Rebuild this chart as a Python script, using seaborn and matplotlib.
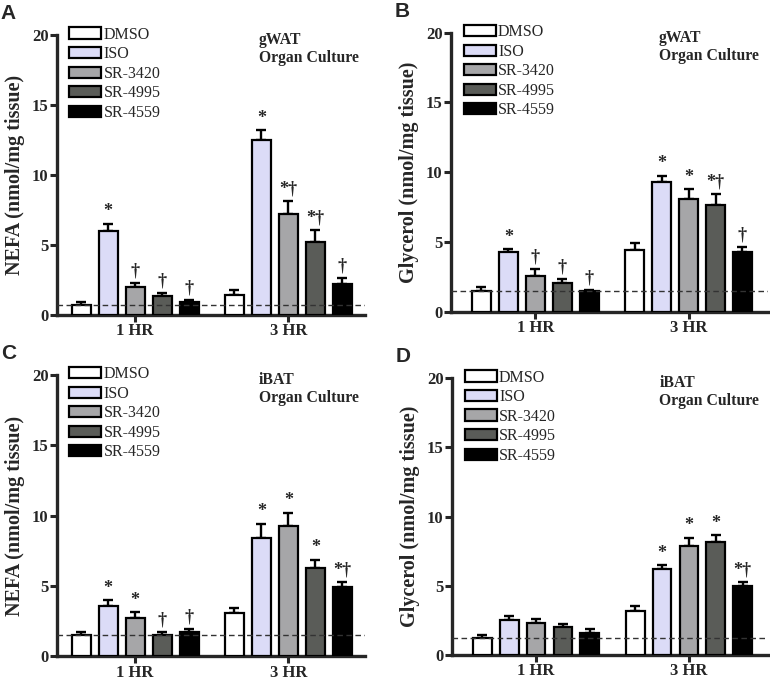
import matplotlib
matplotlib.use("Agg")
import matplotlib.pyplot as plt
import seaborn as sns
import pandas as pd
import numpy as np


groups = ["1 HR", "3 HR"]
treatments = ["DMSO", "ISO", "SR-3420", "SR-4995", "SR-4559"]
colors = ["#ffffff", "#dcdcf7", "#a6a6a8", "#5a5c58", "#000000"]

# panel A: NEFA, gWAT
nefa_gwat_1h = [0.71, 6.0, 1.98, 1.36, 0.93]
nefa_gwat_3h = [1.43, 12.48, 7.2, 5.2, 2.24]
nefa_gwat_err_1h = [0.24, 0.5, 0.32, 0.24, 0.14]
nefa_gwat_err_3h = [0.37, 0.72, 0.94, 0.9, 0.43]
nefa_gwat_marks = ["", "*", "†", "†", "†", "", "*", "*†", "*†", "†"]
nefa_gwat_base = 0.71

# panel B: glycerol, gWAT
gly_gwat_1h = [1.49, 4.29, 2.59, 2.04, 1.49]
gly_gwat_3h = [4.4, 9.34, 8.1, 7.64, 4.29]
gly_gwat_err_1h = [0.31, 0.21, 0.51, 0.33, 0.09]
gly_gwat_err_3h = [0.5, 0.41, 0.7, 0.81, 0.33]
gly_gwat_marks = ["", "*", "†", "†", "†", "", "*", "*", "*†", "†"]
gly_gwat_base = 1.51

# panel C: NEFA, iBAT
nefa_ibat_1h = [1.53, 3.6, 2.75, 1.53, 1.76]
nefa_ibat_3h = [3.1, 8.4, 9.3, 6.28, 4.94]
nefa_ibat_err_1h = [0.19, 0.4, 0.38, 0.19, 0.19]
nefa_ibat_err_3h = [0.36, 1.01, 0.89, 0.59, 0.36]
nefa_ibat_marks = ["", "*", "*", "†", "†", "", "*", "*", "*", "*†"]
nefa_ibat_base = 1.53

# panel D: glycerol, iBAT
gly_ibat_1h = [1.2, 2.52, 2.3, 2.06, 1.58]
gly_ibat_3h = [3.19, 6.19, 7.87, 8.19, 4.99]
gly_ibat_err_1h = [0.24, 0.31, 0.34, 0.22, 0.29]
gly_ibat_err_3h = [0.36, 0.29, 0.6, 0.48, 0.31]
gly_ibat_marks = ["", "", "", "", "", "", "*", "*", "*", "*†"]
gly_ibat_base = 1.2


def make_frame(v1, v3):
    return pd.DataFrame({
        "time": [groups[0]] * 5 + [groups[1]] * 5,
        "treatment": treatments * 2,
        "value": list(v1) + list(v3),
    })


def draw_panel(ax, letter, tissue, ylabel, v1, v3, e1, e3, marks, base, xlim):
    df = make_frame(v1, v3)
    sns.barplot(data=df, x="time", y="value", hue="treatment",
                hue_order=treatments, palette=colors, errorbar=None,
                width=0.88, gap=0.3, edgecolor="black", linewidth=1.6,
                saturation=1, ax=ax, zorder=3)

    errs = [e1, e3]
    bar_conts = list(ax.containers)
    for i, cont in enumerate(bar_conts):
        for j, bar in enumerate(cont.patches):
            x = bar.get_x() + bar.get_width() / 2
            y = bar.get_height()
            err = errs[j][i]
            ax.errorbar(x, y, yerr=[[0], [err]], fmt="none", ecolor="black",
                        elinewidth=1.7, capsize=3.8, capthick=1.7, zorder=2)
            m = marks[j * 5 + i]
            if m:
                ax.text(x, y + err + 0.25, m, ha="center", va="bottom",
                        fontsize=13, fontweight="bold",
                        family="Liberation Serif")

    ax.axhline(base, color="#333333", linestyle=(0, (4, 2.5)), linewidth=1.0,
               zorder=4)

    ax.set_ylim(0, 20)
    ax.set_yticks([0, 5, 10, 15, 20])
    ax.set_xlim(*xlim)
    ax.set_xlabel("")
    ax.set_ylabel(ylabel, fontsize=14.5, fontweight="bold",
                  family="Liberation Serif", labelpad=5)
    sns.despine(ax=ax)
    for s in ["left", "bottom"]:
        ax.spines[s].set_linewidth(2.4)
    ax.tick_params(direction="out", length=5, width=2.2, labelsize=12,
                   pad=1)
    for lab in ax.get_xticklabels() + ax.get_yticklabels():
        lab.set_fontweight("bold")
        lab.set_family("Liberation Serif")

    leg = ax.legend(loc="upper left", bbox_to_anchor=(0.04, 1.03),
                    frameon=False, handlelength=2.0,
                    handleheight=0.7, labelspacing=0.22, handletextpad=0.15,
                    borderpad=0, borderaxespad=0,
                    prop={"family": "Liberation Serif", "size": 11.5})
    for h in leg.legend_handles:
        h.set_edgecolor("black")
        h.set_linewidth(1.6)

    ax.text(0.655, 1.01, tissue + "\nOrgan Culture", transform=ax.transAxes,
            ha="left", va="top", fontsize=11.3, fontweight="bold",
            family="Liberation Serif", linespacing=1.15)

    pos = ax.get_position()
    ax.figure.text(pos.x0 - 0.073, pos.y1 + 0.045, letter, fontsize=15,
                   fontweight="bold", family="Liberation Sans",
                   ha="left", va="top")


def main():
    sns.set_style("ticks")
    plt.rcParams["font.family"] = ["Liberation Serif", "DejaVu Serif"]

    fig = plt.figure(figsize=(7.7, 6.81), dpi=100)
    ax_a = fig.add_axes([0.074, 0.5375, 0.40, 0.411])
    ax_b = fig.add_axes([0.5857, 0.542, 0.412, 0.41])
    ax_c = fig.add_axes([0.074, 0.036, 0.40, 0.4136])
    ax_d = fig.add_axes([0.587, 0.038, 0.411, 0.407])

    draw_panel(ax_a, "A", "gWAT", "NEFA (nmol/mg tissue)",
               nefa_gwat_1h, nefa_gwat_3h, nefa_gwat_err_1h, nefa_gwat_err_3h,
               nefa_gwat_marks, nefa_gwat_base, (-0.51, 1.50))
    draw_panel(ax_b, "B", "gWAT", "Glycerol (nmol/mg tissue)",
               gly_gwat_1h, gly_gwat_3h, gly_gwat_err_1h, gly_gwat_err_3h,
               gly_gwat_marks, gly_gwat_base, (-0.55, 1.52))
    draw_panel(ax_c, "C", "iBAT", "NEFA (nmol/mg tissue)",
               nefa_ibat_1h, nefa_ibat_3h, nefa_ibat_err_1h, nefa_ibat_err_3h,
               nefa_ibat_marks, nefa_ibat_base, (-0.51, 1.50))
    draw_panel(ax_d, "D", "iBAT", "Glycerol (nmol/mg tissue)",
               gly_ibat_1h, gly_ibat_3h, gly_ibat_err_1h, gly_ibat_err_3h,
               gly_ibat_marks, gly_ibat_base, (-0.55, 1.52))

    fig.savefig("out.png", dpi=100)


if __name__ == "__main__":
    main()
